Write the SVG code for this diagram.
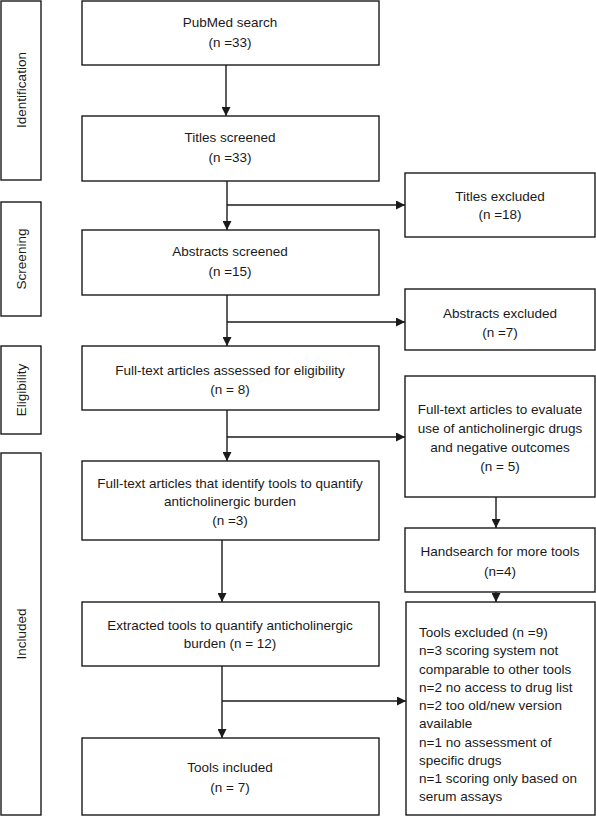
<svg xmlns="http://www.w3.org/2000/svg" width="596" height="816" viewBox="0 0 596 816">
<style>
rect{fill:#fff;stroke:#1a1a1a;stroke-width:1.4}
text{font-family:"Liberation Sans",Arial,sans-serif;font-size:13.5px;fill:#1a1a1a}
.c{text-anchor:middle}
.ln{fill:none;stroke:#1a1a1a;stroke-width:1.4}
</style>
<defs>
<marker id="ah" viewBox="0 0 10 10" refX="10" refY="5" markerWidth="9" markerHeight="9" markerUnits="userSpaceOnUse" orient="auto">
<path d="M0,0 L10,5 L0,10 z" fill="#1a1a1a"/>
</marker>
</defs>
<rect width="596" height="816" style="fill:#fff;stroke:none"/>
<g id="phase-identification"><rect x="1" y="1" width="40" height="179"/><text class="c" transform="translate(26,90) rotate(-90)">Identification</text></g>
<g id="phase-screening"><rect x="1" y="202" width="40" height="114"/><text class="c" transform="translate(26,259) rotate(-90)">Screening</text></g>
<g id="phase-eligibility"><rect x="1" y="346" width="40" height="88"/><text class="c" transform="translate(26,390) rotate(-90)">Eligibility</text></g>
<g id="phase-included"><rect x="1" y="453" width="40" height="362"/><text class="c" transform="translate(26,634) rotate(-90)">Included</text></g>

<g id="n-pubmed"><rect x="82" y="1" width="297" height="64"/><text class="c" x="230" y="27">PubMed search</text><text class="c" x="230" y="47">(n =33)</text></g>
<g id="n-titles"><rect x="82" y="116" width="297" height="65"/><text class="c" x="230" y="142">Titles screened</text><text class="c" x="230" y="162">(n =33)</text></g>
<g id="n-titles-excl"><rect x="405" y="173" width="190" height="64"/><text class="c" x="500" y="201">Titles excluded</text><text class="c" x="500" y="219">(n =18)</text></g>
<g id="n-abstracts"><rect x="82" y="230" width="297" height="65"/><text class="c" x="230" y="256">Abstracts screened</text><text class="c" x="230" y="276">(n =15)</text></g>
<g id="n-abstracts-excl"><rect x="405" y="289" width="190" height="61"/><text class="c" x="500" y="318">Abstracts excluded</text><text class="c" x="500" y="337">(n =7)</text></g>
<g id="n-fulltext"><rect x="82" y="346" width="297" height="64"/><text class="c" x="230" y="375">Full-text articles assessed for eligibility</text><text class="c" x="230" y="394">(n = 8)</text></g>
<g id="n-evaluate"><rect x="405" y="376" width="190" height="121"/><text class="c" x="500" y="414">Full-text articles to evaluate</text><text class="c" x="500" y="433">use of anticholinergic drugs</text><text class="c" x="500" y="452">and negative outcomes</text><text class="c" x="500" y="471">(n = 5)</text></g>
<g id="n-identify"><rect x="82" y="461" width="297" height="79"/><text class="c" x="230" y="488">Full-text articles that identify tools to quantify</text><text class="c" x="230" y="506">anticholinergic burden</text><text class="c" x="230" y="525">(n =3)</text></g>
<g id="n-handsearch"><rect x="405" y="528" width="190" height="64"/><text class="c" x="500" y="556">Handsearch for more tools</text><text class="c" x="500" y="576">(n=4)</text></g>
<g id="n-extracted"><rect x="82" y="602" width="297" height="64"/><text class="c" x="230" y="630">Extracted tools to quantify anticholinergic</text><text class="c" x="230" y="648">burden (n = 12)</text></g>
<g id="n-tools-excl"><rect x="406" y="602" width="189" height="213"/>
<text x="419" y="637">Tools excluded (n =9)</text>
<text x="419" y="655">n=3 scoring system not</text>
<text x="419" y="673.5">comparable to other tools</text>
<text x="419" y="692">n=2 no access to drug list</text>
<text x="419" y="710">n=2 too old/new version</text>
<text x="419" y="728">available</text>
<text x="419" y="746.5">n=1 no assessment of</text>
<text x="419" y="765">specific drugs</text>
<text x="419" y="783">n=1 scoring only based on</text>
<text x="419" y="801">serum assays</text>
</g>
<g id="n-included"><rect x="82" y="738" width="297" height="77"/><text class="c" x="230" y="772">Tools included</text><text class="c" x="230" y="792">(n = 7)</text></g>

<g id="connectors">
<line class="ln" x1="226" y1="65" x2="226" y2="116" marker-end="url(#ah)"/>
<line class="ln" x1="227" y1="181" x2="227" y2="230" marker-end="url(#ah)"/>
<line class="ln" x1="227" y1="205" x2="405" y2="205" marker-end="url(#ah)"/>
<line class="ln" x1="227" y1="295" x2="227" y2="346" marker-end="url(#ah)"/>
<line class="ln" x1="227" y1="322" x2="405" y2="322" marker-end="url(#ah)"/>
<line class="ln" x1="227" y1="410" x2="227" y2="461" marker-end="url(#ah)"/>
<line class="ln" x1="227" y1="437" x2="405" y2="437" marker-end="url(#ah)"/>
<line class="ln" x1="496" y1="497" x2="496" y2="528" marker-end="url(#ah)"/>
<line class="ln" x1="222" y1="540" x2="222" y2="602" marker-end="url(#ah)"/>
<line class="ln" x1="496" y1="592" x2="496" y2="602" marker-end="url(#ah)"/>
<line class="ln" x1="222" y1="666" x2="222" y2="738" marker-end="url(#ah)"/>
<line class="ln" x1="222" y1="701" x2="406" y2="701" marker-end="url(#ah)"/>
</g>
</svg>
